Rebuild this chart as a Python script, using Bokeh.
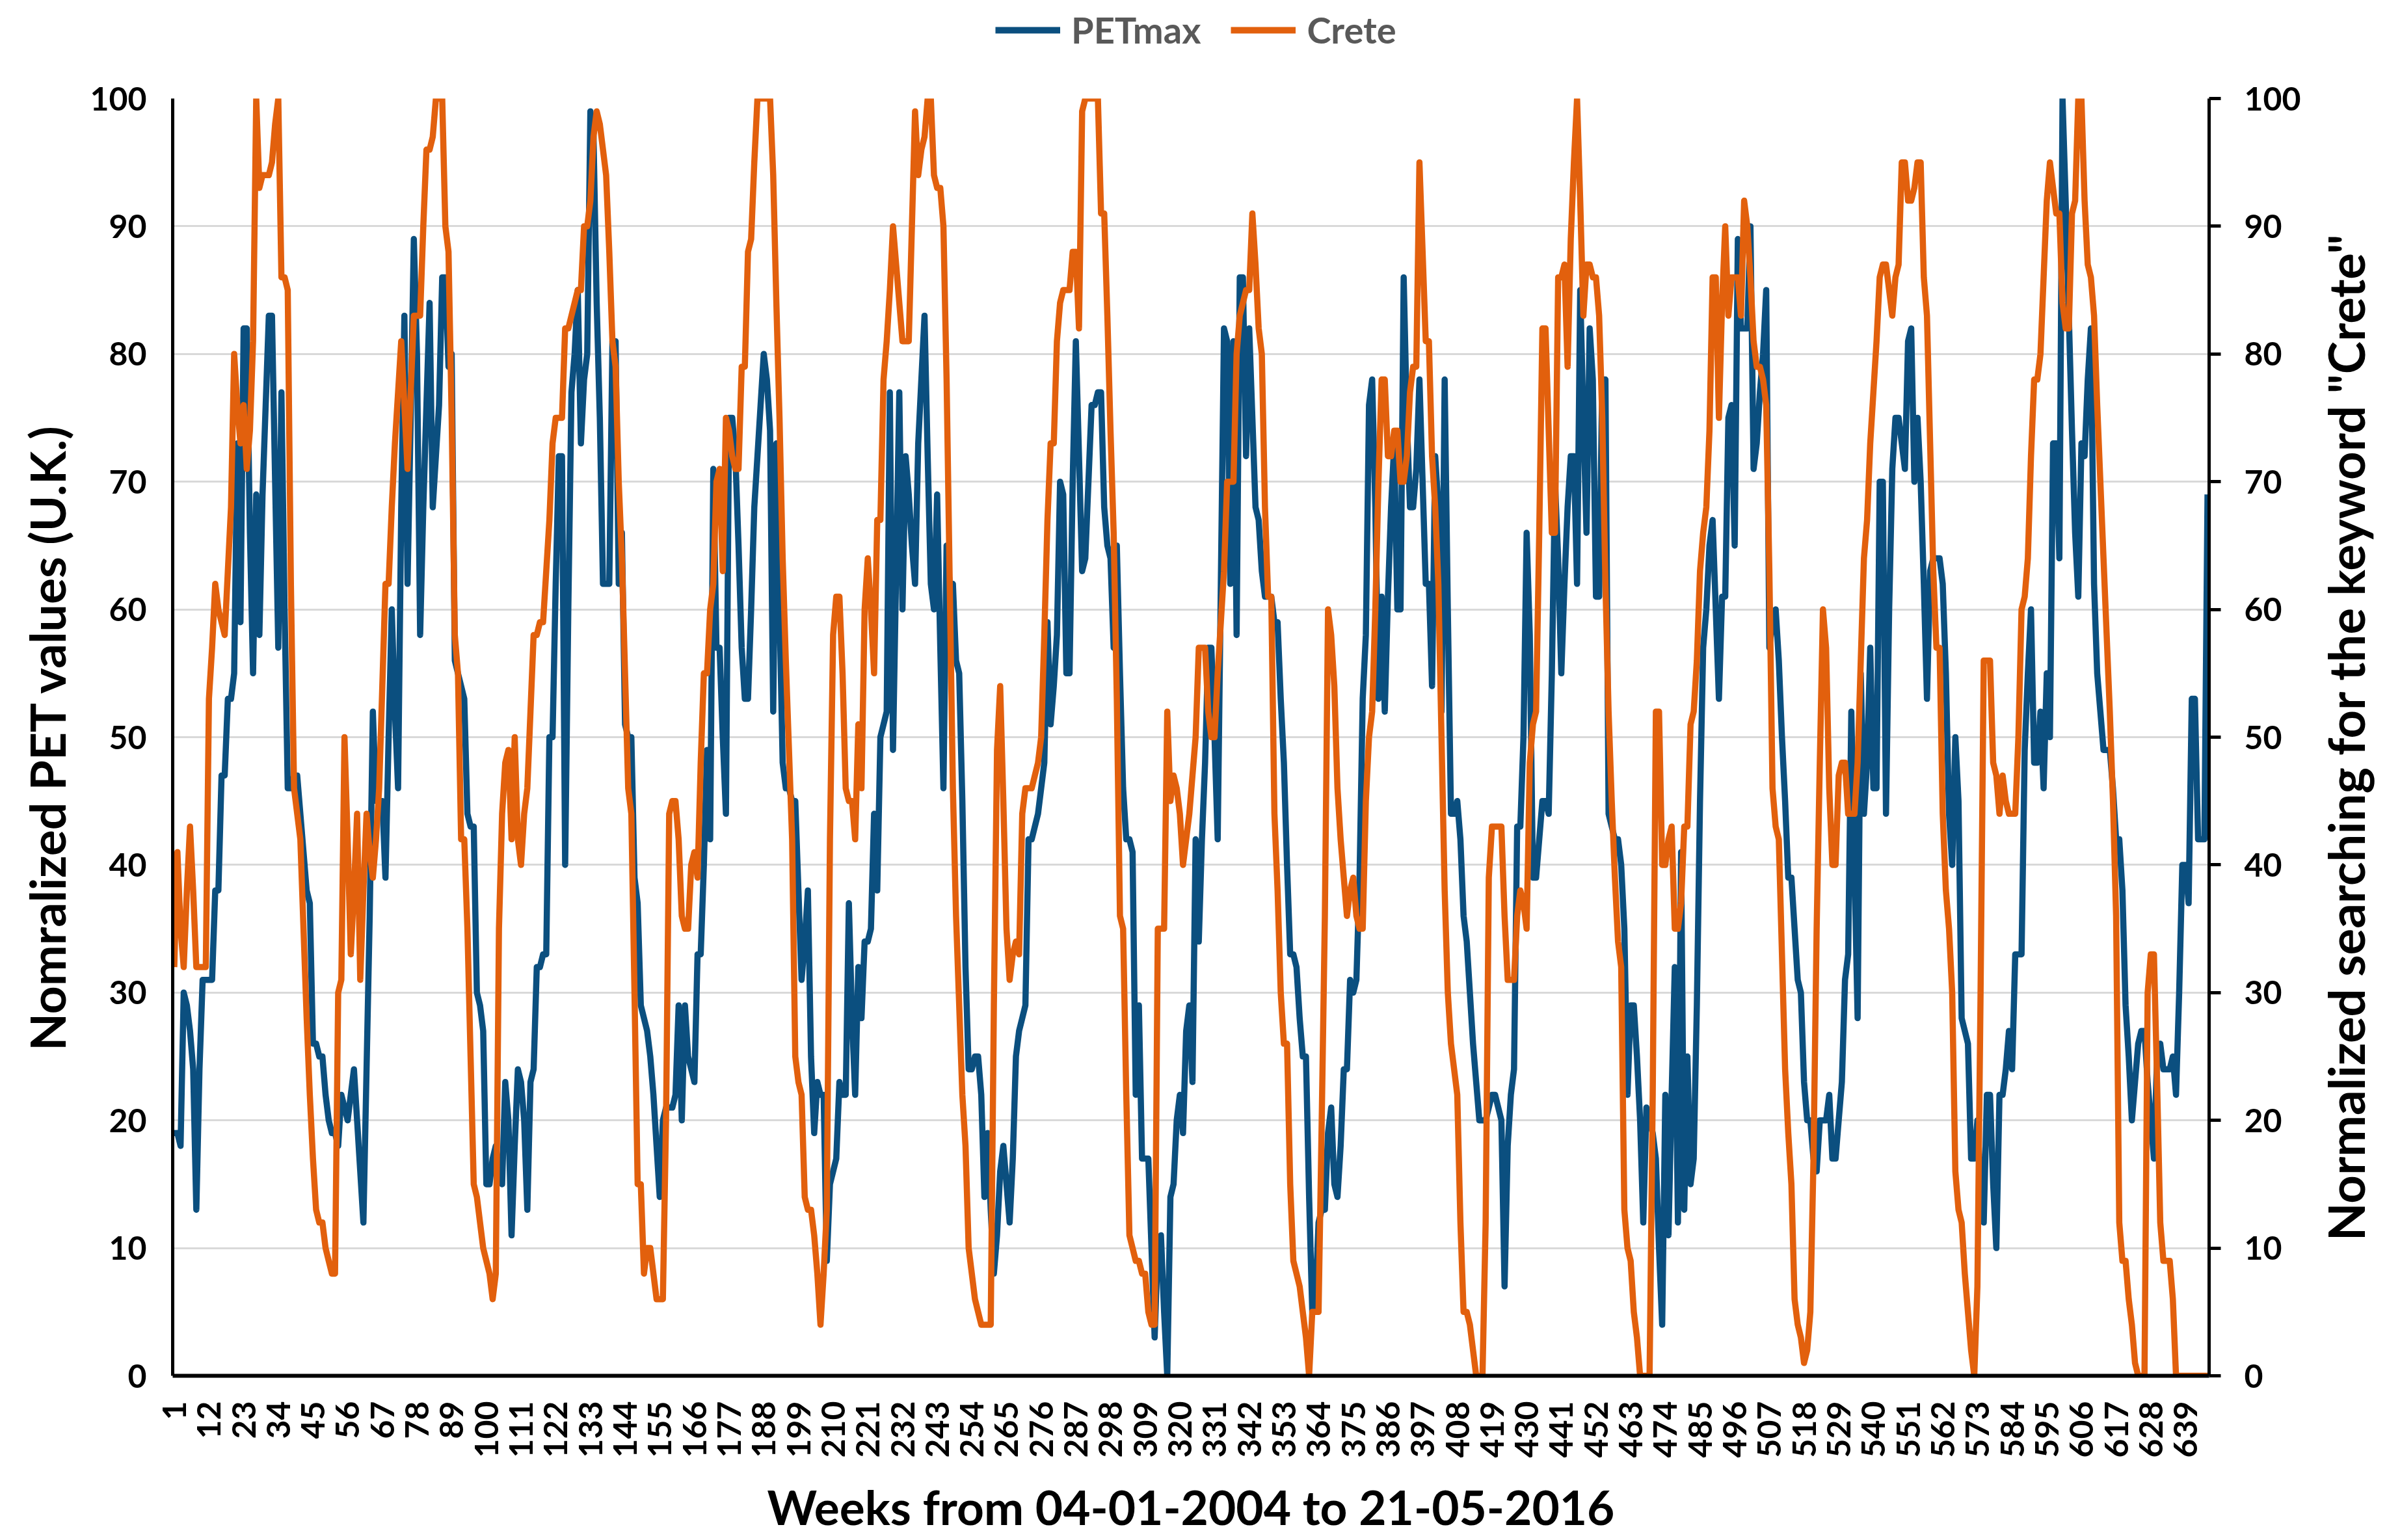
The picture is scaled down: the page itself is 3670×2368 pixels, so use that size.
import math
from bokeh.plotting import figure
from bokeh.layouts import column, row
from bokeh.models import Range1d, LinearAxis, FixedTicker, Legend, LegendItem
from bokeh.embed import file_html
from bokeh.resources import INLINE

# Weekly normalized PET (U.K.), weeks 1..646
pet_max = [
    19, 19, 18, 30, 29, 27, 24, 13, 24, 31,
    31, 31, 31, 38, 38, 47, 47, 53, 53, 55,
    73, 59, 82, 82, 66, 55, 69, 58, 69, 76,
    83, 83, 70, 57, 77, 60, 46, 46, 47, 47,
    44, 41, 38, 37, 26, 26, 25, 25, 22, 20,
    19, 19, 18, 22, 21, 20, 22, 24, 20, 16,
    12, 24, 36, 52, 45, 45, 45, 39, 50, 60,
    52, 46, 68, 83, 62, 75, 89, 80, 58, 68,
    76, 84, 68, 72, 76, 86, 86, 79, 80, 56,
    55, 54, 53, 44, 43, 43, 30, 29, 27, 15,
    15, 17, 18, 16, 15, 23, 20, 11, 18, 24,
    23, 20, 13, 23, 24, 32, 32, 33, 33, 50,
    50, 62, 72, 72, 40, 60, 77, 80, 85, 73,
    78, 80, 99, 97, 84, 75, 62, 62, 62, 81,
    81, 62, 66, 51, 50, 50, 39, 37, 29, 28,
    27, 25, 22, 18, 14, 20, 21, 21, 21, 22,
    29, 20, 29, 25, 24, 23, 33, 33, 40, 49,
    42, 71, 57, 57, 50, 44, 75, 75, 72, 65,
    57, 53, 53, 60, 68, 72, 76, 80, 78, 74,
    52, 73, 60, 48, 46, 46, 45, 45, 38, 31,
    34, 38, 25, 19, 23, 22, 22, 9, 15, 16,
    17, 23, 22, 22, 37, 28, 22, 32, 28, 34,
    34, 35, 44, 38, 50, 51, 52, 77, 49, 63,
    77, 60, 72, 69, 65, 62, 73, 78, 83, 72,
    62, 60, 69, 57, 46, 65, 62, 62, 56, 55,
    45, 32, 24, 24, 25, 25, 22, 14, 19, 13,
    8, 11, 16, 18, 15, 12, 17, 25, 27, 28,
    29, 42, 42, 43, 44, 46, 48, 59, 51, 54,
    58, 70, 69, 55, 55, 70, 81, 72, 63, 64,
    70, 76, 76, 77, 77, 68, 65, 64, 57, 65,
    55, 46, 42, 42, 41, 22, 29, 17, 17, 17,
    10, 3, 10, 11, 5, 0, 14, 15, 20, 22,
    19, 27, 29, 23, 42, 34, 42, 48, 57, 57,
    50, 42, 62, 82, 81, 62, 81, 58, 86, 86,
    72, 82, 75, 68, 67, 63, 61, 61, 61, 59,
    59, 53, 48, 40, 33, 33, 32, 28, 25, 25,
    14, 5, 6, 12, 13, 13, 19, 21, 15, 14,
    18, 24, 24, 31, 30, 31, 39, 53, 58, 76,
    78, 68, 53, 61, 52, 61, 68, 73, 60, 60,
    86, 75, 68, 68, 71, 78, 70, 62, 62, 54,
    72, 68, 52, 78, 60, 44, 44, 45, 42, 36,
    34, 30, 26, 23, 20, 20, 20, 21, 22, 22,
    21, 20, 7, 18, 22, 24, 43, 43, 50, 66,
    58, 39, 39, 42, 45, 45, 44, 55, 70, 64,
    55, 62, 68, 72, 72, 62, 85, 75, 66, 82,
    78, 61, 61, 78, 78, 44, 43, 42, 42, 40,
    35, 22, 29, 29, 25, 20, 12, 21, 20, 19,
    17, 10, 4, 22, 11, 22, 32, 12, 41, 13,
    25, 15, 17, 29, 45, 57, 60, 65, 67, 60,
    53, 61, 61, 75, 76, 65, 89, 82, 82, 82,
    90, 71, 73, 77, 80, 85, 57, 59, 60, 56,
    50, 45, 39, 39, 35, 31, 30, 23, 20, 20,
    17, 16, 20, 20, 20, 22, 17, 17, 20, 23,
    31, 33, 52, 40, 28, 55, 44, 48, 57, 46,
    46, 70, 70, 44, 60, 71, 75, 75, 73, 71,
    81, 82, 70, 75, 70, 62, 53, 63, 64, 64,
    64, 62, 55, 44, 40, 50, 45, 28, 27, 26,
    17, 17, 20, 15, 12, 22, 22, 15, 10, 22,
    22, 24, 27, 24, 33, 33, 33, 49, 55, 60,
    48, 48, 52, 46, 55, 50, 73, 73, 64, 100,
    92, 83, 74, 66, 61, 73, 72, 78, 82, 62,
    55, 52, 49, 49, 49, 46, 42, 42, 38, 29,
    25, 20, 23, 26, 27, 27, 23, 20, 17, 25,
    26, 24, 24, 24, 25, 22, 30, 40, 40, 37,
    53, 53, 42, 42, 42, 69,
]

# Weekly normalized searching for "Crete", weeks 1..646
crete = [
    32, 41, 35, 32, 38, 43, 38, 32, 32, 32,
    32, 53, 57, 62, 60, 59, 58, 63, 68, 80,
    76, 73, 76, 71, 74, 81, 100, 93, 94, 94,
    94, 95, 98, 100, 86, 86, 85, 62, 46, 44,
    42, 35, 28, 22, 17, 13, 12, 12, 10, 9,
    8, 8, 30, 31, 50, 42, 33, 38, 44, 31,
    38, 44, 41, 39, 42, 46, 54, 62, 62, 68,
    73, 77, 81, 76, 71, 77, 83, 83, 83, 90,
    96, 96, 97, 100, 100, 100, 90, 88, 75, 58,
    55, 42, 42, 35, 25, 15, 14, 12, 10, 9,
    8, 6, 8, 35, 44, 48, 49, 42, 50, 42,
    40, 44, 46, 52, 58, 58, 59, 59, 63, 67,
    73, 75, 75, 75, 82, 82, 83, 84, 85, 85,
    90, 90, 92, 97, 99, 98, 96, 94, 88, 81,
    79, 70, 64, 55, 46, 44, 30, 15, 15, 8,
    10, 10, 8, 6, 6, 6, 20, 44, 45, 45,
    42, 36, 35, 35, 40, 41, 39, 48, 55, 55,
    60, 62, 70, 71, 63, 75, 74, 72, 71, 71,
    79, 79, 88, 89, 95, 100, 100, 100, 100, 100,
    94, 84, 75, 64, 56, 49, 42, 25, 23, 22,
    14, 13, 13, 11, 8, 4, 8, 13, 42, 58,
    61, 61, 55, 46, 45, 45, 42, 51, 46, 60,
    64, 60, 55, 67, 67, 78, 81, 85, 90, 87,
    84, 81, 81, 81, 90, 99, 94, 96, 97, 100,
    100, 94, 93, 93, 90, 78, 62, 46, 36, 29,
    22, 18, 10, 8, 6, 5, 4, 4, 4, 4,
    29, 49, 54, 45, 35, 31, 33, 34, 33, 44,
    46, 46, 46, 47, 48, 50, 58, 67, 73, 73,
    81, 84, 85, 85, 85, 88, 88, 82, 99, 100,
    100, 100, 100, 100, 91, 91, 83, 74, 66, 53,
    36, 35, 22, 11, 10, 9, 9, 8, 8, 5,
    4, 4, 35, 35, 35, 52, 45, 47, 46, 44,
    40, 42, 44, 47, 50, 57, 57, 57, 52, 50,
    50, 55, 59, 63, 70, 70, 70, 80, 83, 84,
    85, 85, 91, 87, 82, 80, 68, 61, 61, 44,
    38, 30, 26, 26, 15, 9, 8, 7, 5, 3,
    0, 5, 5, 5, 20, 36, 60, 58, 54, 46,
    42, 39, 36, 38, 39, 36, 35, 35, 45, 50,
    52, 60, 70, 78, 78, 72, 72, 74, 74, 70,
    70, 72, 77, 79, 79, 95, 88, 81, 81, 72,
    68, 62, 50, 38, 30, 26, 24, 22, 12, 5,
    5, 4, 2, 0, 0, 0, 12, 39, 43, 43,
    43, 43, 36, 31, 31, 31, 36, 38, 37, 35,
    48, 51, 52, 66, 82, 82, 74, 66, 66, 86,
    86, 87, 79, 89, 95, 100, 92, 83, 87, 87,
    86, 86, 83, 75, 62, 52, 45, 39, 34, 32,
    13, 10, 9, 5, 3, 0, 0, 0, 0, 22,
    52, 52, 40, 40, 42, 43, 35, 35, 37, 43,
    43, 51, 52, 56, 63, 66, 68, 74, 86, 86,
    75, 84, 90, 83, 86, 86, 86, 83, 92, 90,
    86, 81, 79, 79, 78, 76, 63, 46, 43, 42,
    33, 24, 19, 15, 6, 4, 3, 1, 2, 5,
    17, 35, 48, 60, 57, 46, 40, 40, 47, 48,
    48, 44, 44, 44, 48, 56, 64, 67, 73, 77,
    81, 86, 87, 87, 85, 83, 86, 87, 95, 95,
    92, 92, 93, 95, 95, 86, 83, 73, 63, 57,
    57, 44, 38, 35, 30, 16, 13, 12, 8, 5,
    2, 0, 7, 30, 56, 56, 56, 48, 47, 44,
    47, 45, 44, 44, 44, 50, 60, 61, 64, 72,
    78, 78, 80, 86, 92, 95, 93, 91, 91, 84,
    82, 82, 91, 92, 100, 100, 92, 87, 86, 83,
    76, 70, 64, 58, 52, 45, 36, 12, 9, 9,
    6, 4, 1, 0, 0, 0, 30, 33, 33, 23,
    12, 9, 9, 9, 6, 0, 0, 0, 0, 0,
    0, 0, 0, 0, 0, 0,
]

weeks = list(range(1, len(pet_max) + 1))

week_ticks = [1, 12, 23, 34, 45, 56, 67, 78, 89, 100, 111, 122, 133, 144, 155,
              166, 177, 188, 199, 210, 221, 232, 243, 254, 265, 276, 287, 298,
              309, 320, 331, 342, 353, 364, 375, 386, 397, 408, 419, 430, 441,
              452, 463, 474, 485, 496, 507, 518, 529, 540, 551, 562, 573, 584,
              595, 606, 617, 628, 639]
value_ticks = [0, 10, 20, 30, 40, 50, 60, 70, 80, 90, 100]

series_names = ["PETmax", "Crete"]
x_title = "Weeks from 04-01-2004 to 21-05-2016"
left_title = "Nomralized PET values (U.K.)"
right_title = 'Normalized searching for the keyword "Crete"'

BLUE = "#0b4f7f"
ORANGE = "#e2600d"
FONT = "Lato"
LW = 9.5

FRAME_W, FRAME_H = 3131, 1964
TOP_H = 100           # legend strip height
MAIN_TOP = 51
MAIN_LEFT, MAIN_RIGHT, MAIN_BOTTOM = 265, 158, 237
TITLE_W = 100
MAIN_H = MAIN_TOP + FRAME_H + MAIN_BOTTOM
TOTAL_W = MAIN_LEFT + FRAME_W + MAIN_RIGHT + TITLE_W

# ---------------- main chart ----------------
p = figure(frame_width=FRAME_W, frame_height=FRAME_H,
           min_border_left=MAIN_LEFT, min_border_right=MAIN_RIGHT,
           min_border_top=MAIN_TOP, min_border_bottom=MAIN_BOTTOM,
           x_range=Range1d(0.5, len(weeks) + 0.5), y_range=Range1d(0, 100),
           output_backend="svg", toolbar_location=None)
p.extra_y_ranges = {"right": Range1d(0, 100)}
p.outline_line_color = None
p.background_fill_color = "white"
p.border_fill_color = "white"

p.xgrid.visible = False
p.ygrid.ticker = FixedTicker(ticks=value_ticks)
p.ygrid.grid_line_color = "#d9d9d9"
p.ygrid.grid_line_width = 3

r1 = p.line(weeks, pet_max, line_color=BLUE, line_width=LW, line_join="round")
r2 = p.line(weeks, crete, y_range_name="right", line_color=ORANGE,
            line_width=LW, line_join="round")

xa = p.xaxis[0]
xa.ticker = FixedTicker(ticks=week_ticks)
xa.major_label_orientation = math.pi / 2
xa.major_tick_out = 0
xa.major_tick_in = 0
xa.minor_tick_out = 0
xa.minor_tick_in = 0
xa.axis_line_width = 6
xa.axis_line_color = "black"
xa.major_label_standoff = 39
xa.major_label_text_font = FONT
xa.major_label_text_font_style = "bold"
xa.major_label_text_font_size = "50px"
xa.major_label_text_color = "black"
xa.axis_label = x_title
xa.axis_label_text_font = FONT
xa.axis_label_text_font_style = "bold"
xa.axis_label_text_font_size = "73px"
xa.axis_label_text_color = "black"
xa.axis_label_standoff = 28

ya = p.yaxis[0]
ya.ticker = FixedTicker(ticks=value_ticks)
ya.major_tick_out = 0
ya.major_tick_in = 0
ya.minor_tick_out = 0
ya.minor_tick_in = 0
ya.axis_line_width = 5
ya.axis_line_color = "black"
ya.major_label_standoff = 40
ya.major_label_text_font = FONT
ya.major_label_text_font_style = "bold"
ya.major_label_text_font_size = "50px"
ya.major_label_text_color = "black"
ya.axis_label = left_title
ya.axis_label_text_font = FONT
ya.axis_label_text_font_style = "bold"
ya.axis_label_text_font_size = "75px"
ya.axis_label_text_color = "black"
ya.axis_label_standoff = 18

ra = LinearAxis(y_range_name="right", ticker=FixedTicker(ticks=value_ticks))
ra.major_tick_out = 18
ra.major_tick_in = 0
ra.minor_tick_out = 0
ra.minor_tick_in = 0
ra.major_tick_line_width = 5
ra.axis_line_width = 5
ra.axis_line_color = "black"
ra.major_label_standoff = 36
ra.major_label_text_font = FONT
ra.major_label_text_font_style = "bold"
ra.major_label_text_font_size = "50px"
ra.major_label_text_color = "black"
p.add_layout(ra, "right")

# ---------------- right title strip (label of an invisible axis) ----------------
t = figure(frame_width=1, frame_height=FRAME_H,
           min_border_left=TITLE_W - 1, min_border_right=0,
           min_border_top=MAIN_TOP, min_border_bottom=MAIN_BOTTOM,
           x_range=Range1d(0, 1), y_range=Range1d(0, 1),
           x_axis_type=None, output_backend="svg", toolbar_location=None)
t.outline_line_color = None
t.grid.visible = False
ta = t.yaxis[0]
ta.ticker = FixedTicker(ticks=[])
ta.major_tick_out = 0
ta.major_tick_in = 0
ta.minor_tick_out = 0
ta.minor_tick_in = 0
ta.axis_line_color = None
ta.major_label_standoff = 0
ta.axis_label = right_title
ta.axis_label_text_font = FONT
ta.axis_label_text_font_style = "bold"
ta.axis_label_text_font_size = "76px"
ta.axis_label_text_color = "black"
ta.axis_label_standoff = 2

# ---------------- legend strip ----------------
lg = figure(width=TOTAL_W, height=TOP_H, min_border=0,
            x_range=Range1d(0, 1), y_range=Range1d(0, 1),
            x_axis_type=None, y_axis_type=None,
            output_backend="svg", toolbar_location=None)
lg.outline_line_color = None
lg.grid.visible = False
d1 = lg.line(x=[5, 6], y=[5, 5], line_color=BLUE, line_width=10)
d2 = lg.line(x=[5, 6], y=[5, 5], line_color=ORANGE, line_width=10)
legend = Legend(items=[LegendItem(label=series_names[0], renderers=[d1]),
                       LegendItem(label=series_names[1], renderers=[d2])],
                orientation="horizontal", location=(1530, 21),
                padding=0, margin=0, spacing=46, label_standoff=17,
                glyph_width=100, glyph_height=44,
                border_line_color=None, background_fill_alpha=0,
                label_text_font=FONT, label_text_font_style="bold",
                label_text_font_size="56px", label_text_color="#595959")
lg.add_layout(legend)

layout = column(lg, row(p, t, spacing=0), spacing=0)

open("out.html", "w").write(file_html(layout, INLINE))
